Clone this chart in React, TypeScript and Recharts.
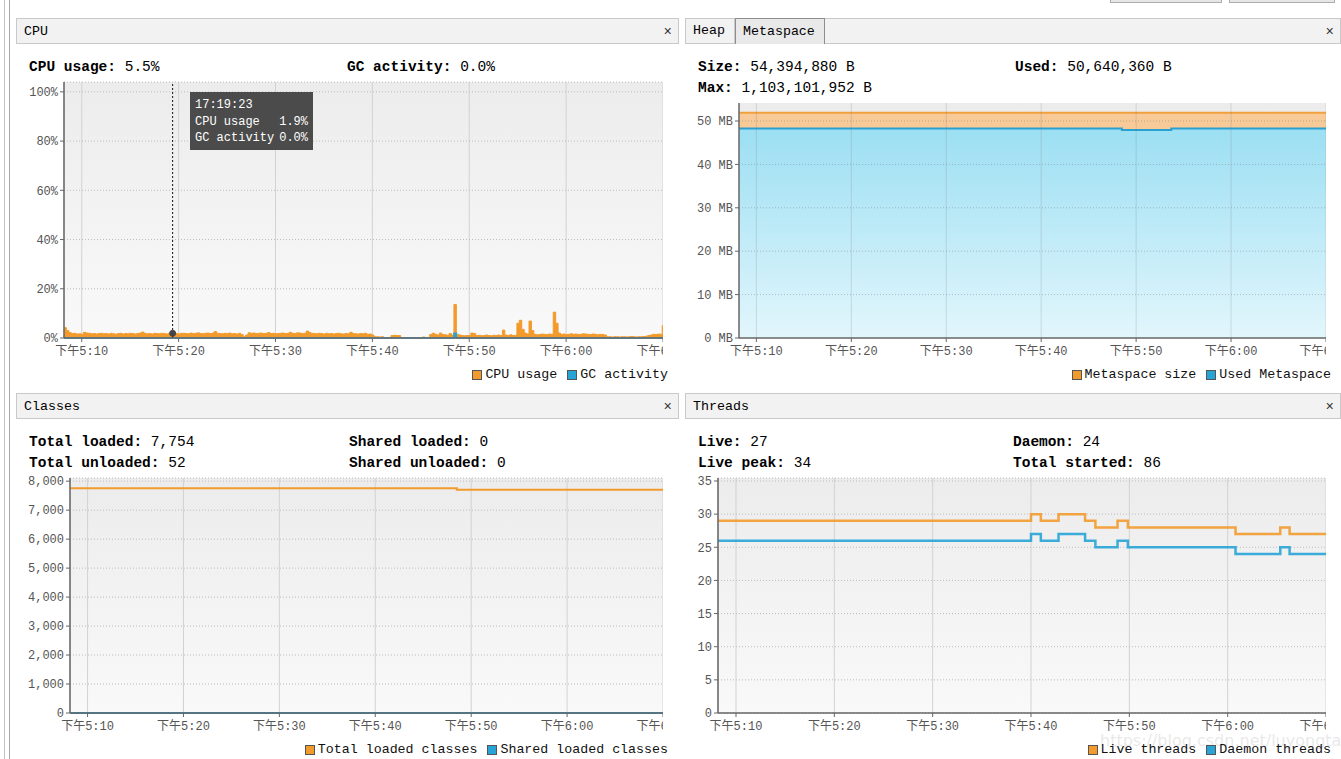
import React from 'react'
import {
  AreaChart,
  Area,
  LineChart,
  Line,
  XAxis,
  YAxis,
  CartesianGrid,
  ReferenceLine,
  ReferenceDot,
} from 'recharts'

// ─── Time axis (minutes after 17:00) ──────────────────────────────────────────

const T_START = 8.17
const T_END = 70
const TIME_TICKS = [10, 20, 30, 40, 50, 60, 70]
const TIME_LABELS = ['下午5:10', '下午5:20', '下午5:30', '下午5:40', '下午5:50', '下午6:00', '下午6:10']

// ─── CPU ──────────────────────────────────────────────────────────────────────

const CPU_STEP = 0.25
const CPU_USAGE = [
  4.2, 3.0, 2.2, 1.8, 1.9, 1.6, 1.7, 1.5, 2.3, 2.0,
  1.9, 1.7, 1.8, 1.6, 1.8, 1.9, 1.7, 1.8, 1.6, 1.9,
  1.7, 1.5, 1.8, 1.9, 1.6, 1.8, 1.7, 1.9, 1.8, 1.6,
  1.8, 2.0, 2.4, 1.9, 1.7, 1.8, 1.6, 1.9, 1.8, 1.7,
  1.9, 1.8, 1.6, 1.9, 1.7, 1.9, 1.8, 1.6, 1.9, 1.9,
  1.8, 1.7, 2.0, 1.8, 1.9, 2.1, 1.8, 1.7, 1.9, 2.0,
  1.8, 2.0, 2.6, 1.9, 1.8, 1.7, 1.9, 1.8, 2.0, 1.7,
  1.8, 1.6, 1.9, 1.4, 0.5, 1.2, 2.1, 1.9, 2.0, 1.8,
  1.9, 2.0, 1.8, 1.9, 2.2, 1.8, 1.9, 1.7, 1.8, 1.9,
  2.0, 1.8, 1.9, 2.3, 1.9, 1.8, 2.1, 2.0, 1.8, 1.9,
  2.8, 2.2, 1.9, 1.8, 1.7, 1.9, 1.8, 1.6, 1.9, 1.7,
  1.8, 1.6, 1.8, 1.9, 1.7, 1.6, 1.8, 1.7, 2.3, 1.8,
  1.7, 1.6, 1.8, 1.7, 1.9, 1.5, 1.6, 1.2, 0.5, 0.5,
  0.4, 0.5, 0.0, 0.0, 0.0, 1.0, 1.1, 1.0, 1.0, 0.0,
  0.0, 0.0, 0.0, 0.0, 0.0, 0.0, 0.0, 0.0, 0.4, 0.0,
  0.0, 1.4, 1.9, 1.5, 1.2, 2.0, 1.4, 1.3, 1.1, 1.8,
  1.2, 13.6, 1.5, 1.2, 1.0, 0.9, 1.0, 1.0, 2.0, 1.8,
  1.0, 1.1, 0.9, 1.0, 1.2, 1.0, 0.9, 1.1, 1.0, 1.2,
  1.0, 3.2, 1.2, 1.0, 1.3, 1.0, 1.1, 6.0, 7.2, 3.5,
  2.0, 1.6, 6.9, 3.0, 1.5, 1.3, 1.4, 1.6, 1.5, 1.4,
  1.6, 1.5, 10.5, 6.0, 2.0, 1.5, 1.6, 1.4, 1.5, 1.7,
  1.5, 1.6, 1.4, 1.5, 1.7, 1.6, 1.5, 1.4, 1.6, 1.5,
  1.3, 1.5, 1.4, 1.2, 0.5, 0.5, 0.4, 0.5, 0.5, 0.4,
  0.5, 0.5, 0.4, 0.5, 0.6, 0.5, 0.4, 0.5, 0.5, 0.6,
  0.7, 1.0, 1.2, 1.5, 1.4, 1.6, 1.5, 5.0, 5.0,
]
const GC_TIMES = [8.17, 48.42, 48.67, 70.17]
const GC_ACTIVITY = [0, 1.9, 0, 0]
const CPU_TICKS = [0, 20, 40, 60, 80, 100]

// ─── Metaspace (MB) ───────────────────────────────────────────────────────────

const META_TIMES = [8.17, 48.5, 53.7, 70]
const META_SIZE = [51.875, 51.875, 51.875, 51.875]
const META_USED = [48.29, 47.92, 48.29, 48.29]
const META_TICKS = [0, 10, 20, 30, 40, 50]

// ─── Classes ──────────────────────────────────────────────────────────────────

const CLASS_TIMES = [8.17, 48.5, 70]
const TOTAL_LOADED = [7754, 7702, 7702]
const SHARED_LOADED = [0, 0, 0]
const CLASS_TICKS = [0, 1000, 2000, 3000, 4000, 5000, 6000, 7000, 8000]

// ─── Threads ──────────────────────────────────────────────────────────────────

const THREAD_TIMES = [8.17, 40.0, 41.0, 42.8, 45.5, 46.55, 48.8, 49.85, 60.8, 65.35, 66.3, 70]
const LIVE_THREADS = [29, 30, 29, 30, 29, 28, 29, 28, 27, 28, 27, 27]
const DAEMON_THREADS = [26, 27, 26, 27, 26, 25, 26, 25, 24, 25, 24, 24]
const THREAD_TICKS = [0, 5, 10, 15, 20, 25, 30, 35]

// ─── Style ────────────────────────────────────────────────────────────────────

const FONT = '"Liberation Mono", "Noto Sans CJK SC", monospace'
const ORANGE = '#f29b2c'
const BLUE = '#27a3d6'

const cpuData = CPU_USAGE.map((v, i) => {
  const t = T_START + i * CPU_STEP
  let gc = 0
  GC_TIMES.forEach((gt, k) => { if (t >= gt - 0.001) gc = GC_ACTIVITY[k] })
  return { t, cpu: v, gc }
})
const metaData = META_TIMES.map((t, i) => ({ t, size: META_SIZE[i], used: META_USED[i] }))
const classData = CLASS_TIMES.map((t, i) => ({ t, total: TOTAL_LOADED[i], shared: SHARED_LOADED[i] }))
const threadData = THREAD_TIMES.map((t, i) => ({ t, live: LIVE_THREADS[i], daemon: DAEMON_THREADS[i] }))

const timeLabel = (v: number) => TIME_LABELS[TIME_TICKS.indexOf(v)] ?? ''
const tickStyle = { fill: '#555', fontSize: 12, fontFamily: FONT }
const axisLine = { stroke: '#666', strokeWidth: 1.5 }
const tickLine = { stroke: '#666' }

function BgGradient({ id }: { id: string }) {
  return (
    <linearGradient id={id} x1="0" y1="0" x2="0" y2="1">
      <stop offset="0" stopColor="#ececec" />
      <stop offset="1" stopColor="#f9f9f9" />
    </linearGradient>
  )
}

// ─── Chrome ───────────────────────────────────────────────────────────────────

function Header({ left, top, width, title }: { left: number; top: number; width: number; title: React.ReactNode }) {
  return (
    <div style={{
      position: 'absolute', left, top, width, height: 26, boxSizing: 'border-box',
      background: '#f2f2f2', border: '1px solid #c9c9c9', font: `13.3px ${FONT}`,
    }}>
      {title}
      <span style={{ position: 'absolute', right: 6, top: 5, fontSize: 14, color: '#333' }}>×</span>
    </div>
  )
}

function Stat({ left, top, label, value }: { left: number; top: number; label: string; value: string }) {
  return (
    <div style={{ position: 'absolute', left, top, font: `14.5px/18px ${FONT}`, whiteSpace: 'nowrap', color: '#000' }}>
      <b>{label}</b> {value}
    </div>
  )
}

function Legend({ right, top, items }: { right: number; top: number; items: { label: string; color: string }[] }) {
  return (
    <div style={{
      position: 'absolute', right, top, display: 'flex', alignItems: 'center', gap: 10,
      font: `13.3px/16px ${FONT}`, whiteSpace: 'nowrap', color: '#111',
    }}>
      {items.map((it) => (
        <div key={it.label} style={{ display: 'flex', alignItems: 'center', gap: 3 }}>
          <span style={{ width: 10, height: 10, boxSizing: 'border-box', border: '1px solid #555', background: it.color, display: 'inline-block' }} />
          <span>{it.label}</span>
        </div>
      ))}
    </div>
  )
}

// ─── App ──────────────────────────────────────────────────────────────────────

export default function App() {
  return (
    <div style={{ position: 'absolute', left: 0, top: 0, width: 1341, height: 759, background: '#fff', overflow: 'hidden', fontFamily: FONT }}>
      {/* window frame bits */}
      <div style={{ position: 'absolute', left: 4, top: 0, width: 1, height: 759, background: '#c4c4c4' }} />
      <div style={{ position: 'absolute', left: 9, top: 0, width: 1, height: 759, background: '#a8a8a8' }} />
      <div style={{ position: 'absolute', left: 1110, top: -20, width: 112, height: 23, boxSizing: 'border-box', border: '1px solid #adadad', background: '#e6e6e6' }} />
      <div style={{ position: 'absolute', left: 1229, top: -20, width: 106, height: 23, boxSizing: 'border-box', border: '1px solid #adadad', background: '#e6e6e6' }} />

      {/* ── CPU ── */}
      <Header left={16} top={18} width={663} title={<span style={{ position: 'absolute', left: 7, top: 5 }}>CPU</span>} />
      <Stat left={29} top={58} label="CPU usage:" value="5.5%" />
      <Stat left={347} top={58} label="GC activity:" value="0.0%" />
      <div style={{ position: 'absolute', left: 16, top: 76 }}>
        <AreaChart width={647} height={284} data={cpuData} margin={{ top: 6, right: 0, left: 0, bottom: 0 }}>
          <defs><BgGradient id="bgCpu" /></defs>
          <CartesianGrid horizontal={false} stroke="#d2d2d2" fill="url(#bgCpu)" />
          <CartesianGrid vertical={false} stroke="#bcbcbc" strokeDasharray="1 2" />
          <XAxis dataKey="t" type="number" domain={[T_START, T_END]} allowDataOverflow ticks={TIME_TICKS} interval={0}
            tickFormatter={timeLabel} tick={tickStyle} tickSize={4} tickMargin={4} axisLine={axisLine} tickLine={tickLine} height={22} />
          <YAxis type="number" domain={[0, 104]} ticks={CPU_TICKS} interval={0} tickFormatter={(v) => `${v}%`}
            tick={tickStyle} tickSize={4} axisLine={axisLine} tickLine={tickLine} width={48} />
          <Area type="stepAfter" dataKey="cpu" stroke={ORANGE} strokeWidth={1} fill={ORANGE} fillOpacity={1} isAnimationActive={false} dot={false} />
          <Area type="stepAfter" dataKey="gc" stroke={BLUE} strokeWidth={1.5} fill={BLUE} fillOpacity={1} isAnimationActive={false} dot={false} />
          <ReferenceLine x={19.383} stroke="#111" strokeDasharray="2 2" />
          <ReferenceDot x={19.383} y={1.9} r={3} fill="#444" stroke="#444" />
        </AreaChart>
      </div>
      <div style={{
        position: 'absolute', left: 190, top: 92, width: 123, height: 58, background: '#4b4b4b',
        color: '#fff', font: `12px/16.5px ${FONT}`, boxSizing: 'border-box', padding: '5px 5px',
      }}>
        <div>17:19:23</div>
        <div style={{ display: 'flex', justifyContent: 'space-between' }}><span>CPU usage</span><span>1.9%</span></div>
        <div style={{ display: 'flex', justifyContent: 'space-between' }}><span>GC activity</span><span>0.0%</span></div>
      </div>
      <Legend right={673} top={367} items={[{ label: 'CPU usage', color: ORANGE }, { label: 'GC activity', color: BLUE }]} />

      {/* ── Heap / Metaspace ── */}
      <Header left={685} top={18} width={656} title={
        <>
          <span style={{ position: 'absolute', left: 0, top: -1, width: 49, height: 26, boxSizing: 'border-box', borderRight: '1px solid #c9c9c9', padding: '5px 0 0 7px' }}>Heap</span>
          <span style={{ position: 'absolute', left: 49, top: -1, width: 90, height: 26, boxSizing: 'border-box', border: '1px solid #8e8e8e', borderBottom: 'none', background: '#e9e9e9', padding: '5px 0 0 7px' }}>Metaspace</span>
        </>
      } />
      <Stat left={698} top={58} label="Size:" value="54,394,880 B" />
      <Stat left={1015} top={58} label="Used:" value="50,640,360 B" />
      <Stat left={698} top={79} label="Max:" value="1,103,101,952 B" />
      <div style={{ position: 'absolute', left: 686, top: 97 }}>
        <AreaChart width={640} height={263} data={metaData} margin={{ top: 6, right: 0, left: 0, bottom: 0 }}>
          <defs>
            <BgGradient id="bgMeta" />
            <linearGradient id="usedFill" x1="0" y1="0" x2="0" y2="1">
              <stop offset="0" stopColor="#9cdff3" />
              <stop offset="1" stopColor="#e2f6fc" />
            </linearGradient>
          </defs>
          <CartesianGrid horizontal={false} vertical={false} fill="url(#bgMeta)" />
          <XAxis dataKey="t" type="number" domain={[T_START, T_END]} allowDataOverflow ticks={TIME_TICKS} interval={0}
            tickFormatter={timeLabel} tick={tickStyle} tickSize={4} tickMargin={4} axisLine={axisLine} tickLine={tickLine} height={22} />
          <YAxis type="number" domain={[0, 54.15]} ticks={META_TICKS} interval={0} tickFormatter={(v) => `${v} MB`}
            tick={tickStyle} tickSize={4} axisLine={axisLine} tickLine={tickLine} width={53} />
          <Area type="stepAfter" dataKey="size" stroke="#f0a03c" strokeWidth={2} fill="#f7ca97" fillOpacity={1} isAnimationActive={false} dot={false} />
          <Area type="stepAfter" dataKey="used" stroke="#2aa0d0" strokeWidth={2} fill="url(#usedFill)" fillOpacity={1} isAnimationActive={false} dot={false} />
          {TIME_TICKS.map((t) => (
            <ReferenceLine key={`v${t}`} x={t} stroke="rgba(120,120,120,0.22)" />
          ))}
          {META_TICKS.filter((v) => v > 0).map((v) => (
            <ReferenceLine key={`h${v}`} y={v} stroke="rgba(110,110,110,0.4)" strokeDasharray="1 2" />
          ))}
        </AreaChart>
      </div>
      <Legend right={10} top={367} items={[{ label: 'Metaspace size', color: ORANGE }, { label: 'Used Metaspace', color: BLUE }]} />

      {/* ── Classes ── */}
      <Header left={16} top={393} width={663} title={<span style={{ position: 'absolute', left: 7, top: 5 }}>Classes</span>} />
      <Stat left={29} top={433} label="Total loaded:" value="7,754" />
      <Stat left={349} top={433} label="Shared loaded:" value="0" />
      <Stat left={29} top={454} label="Total unloaded:" value="52" />
      <Stat left={349} top={454} label="Shared unloaded:" value="0" />
      <div style={{ position: 'absolute', left: 16, top: 472 }}>
        <LineChart width={647} height={263} data={classData} margin={{ top: 6, right: 0, left: 0, bottom: 0 }}>
          <defs><BgGradient id="bgClass" /></defs>
          <CartesianGrid horizontal={false} stroke="#d2d2d2" fill="url(#bgClass)" />
          <CartesianGrid vertical={false} stroke="#bcbcbc" strokeDasharray="1 2" />
          <XAxis dataKey="t" type="number" domain={[T_START, T_END]} allowDataOverflow ticks={TIME_TICKS} interval={0}
            tickFormatter={timeLabel} tick={tickStyle} tickSize={4} tickMargin={4} axisLine={axisLine} tickLine={tickLine} height={22} />
          <YAxis type="number" domain={[0, 8110]} ticks={CLASS_TICKS} interval={0} tickFormatter={(v) => v.toLocaleString('en-US')}
            tick={tickStyle} tickSize={4} axisLine={axisLine} tickLine={tickLine} width={54} />
          <Line type="stepAfter" dataKey="total" stroke={ORANGE} strokeWidth={2} dot={false} isAnimationActive={false} />
          <Line type="stepAfter" dataKey="shared" stroke={BLUE} strokeWidth={2} dot={false} isAnimationActive={false} />
        </LineChart>
      </div>
      <Legend right={673} top={742} items={[{ label: 'Total loaded classes', color: ORANGE }, { label: 'Shared loaded classes', color: BLUE }]} />

      {/* ── Threads ── */}
      <Header left={685} top={393} width={656} title={<span style={{ position: 'absolute', left: 7, top: 5 }}>Threads</span>} />
      <Stat left={698} top={433} label="Live:" value="27" />
      <Stat left={1013} top={433} label="Daemon:" value="24" />
      <Stat left={698} top={454} label="Live peak:" value="34" />
      <Stat left={1013} top={454} label="Total started:" value="86" />
      <div style={{ position: 'absolute', left: 686, top: 472 }}>
        <LineChart width={640} height={263} data={threadData} margin={{ top: 6, right: 0, left: 0, bottom: 0 }}>
          <defs><BgGradient id="bgThread" /></defs>
          <CartesianGrid horizontal={false} stroke="#d2d2d2" fill="url(#bgThread)" />
          <CartesianGrid vertical={false} stroke="#bcbcbc" strokeDasharray="1 2" />
          <XAxis dataKey="t" type="number" domain={[T_START, T_END]} allowDataOverflow ticks={TIME_TICKS} interval={0}
            tickFormatter={timeLabel} tick={tickStyle} tickSize={4} tickMargin={4} axisLine={axisLine} tickLine={tickLine} height={22} />
          <YAxis type="number" domain={[0, 35.45]} ticks={THREAD_TICKS} interval={0}
            tick={tickStyle} tickSize={4} axisLine={axisLine} tickLine={tickLine} width={32} />
          <Line type="stepAfter" dataKey="live" stroke={ORANGE} strokeWidth={2.5} strokeOpacity={0.9} dot={false} isAnimationActive={false} />
          <Line type="stepAfter" dataKey="daemon" stroke={BLUE} strokeWidth={2.5} strokeOpacity={0.9} dot={false} isAnimationActive={false} />
        </LineChart>
      </div>
      <div style={{ position: 'absolute', left: 1100, top: 731, font: '16px "DejaVu Sans", sans-serif', color: 'rgba(190,190,190,0.35)', whiteSpace: 'nowrap' }}>
        https://blog.csdn.net/luyongtao28
      </div>
      <Legend right={10} top={742} items={[{ label: 'Live threads', color: ORANGE }, { label: 'Daemon threads', color: BLUE }]} />
    </div>
  )
}
